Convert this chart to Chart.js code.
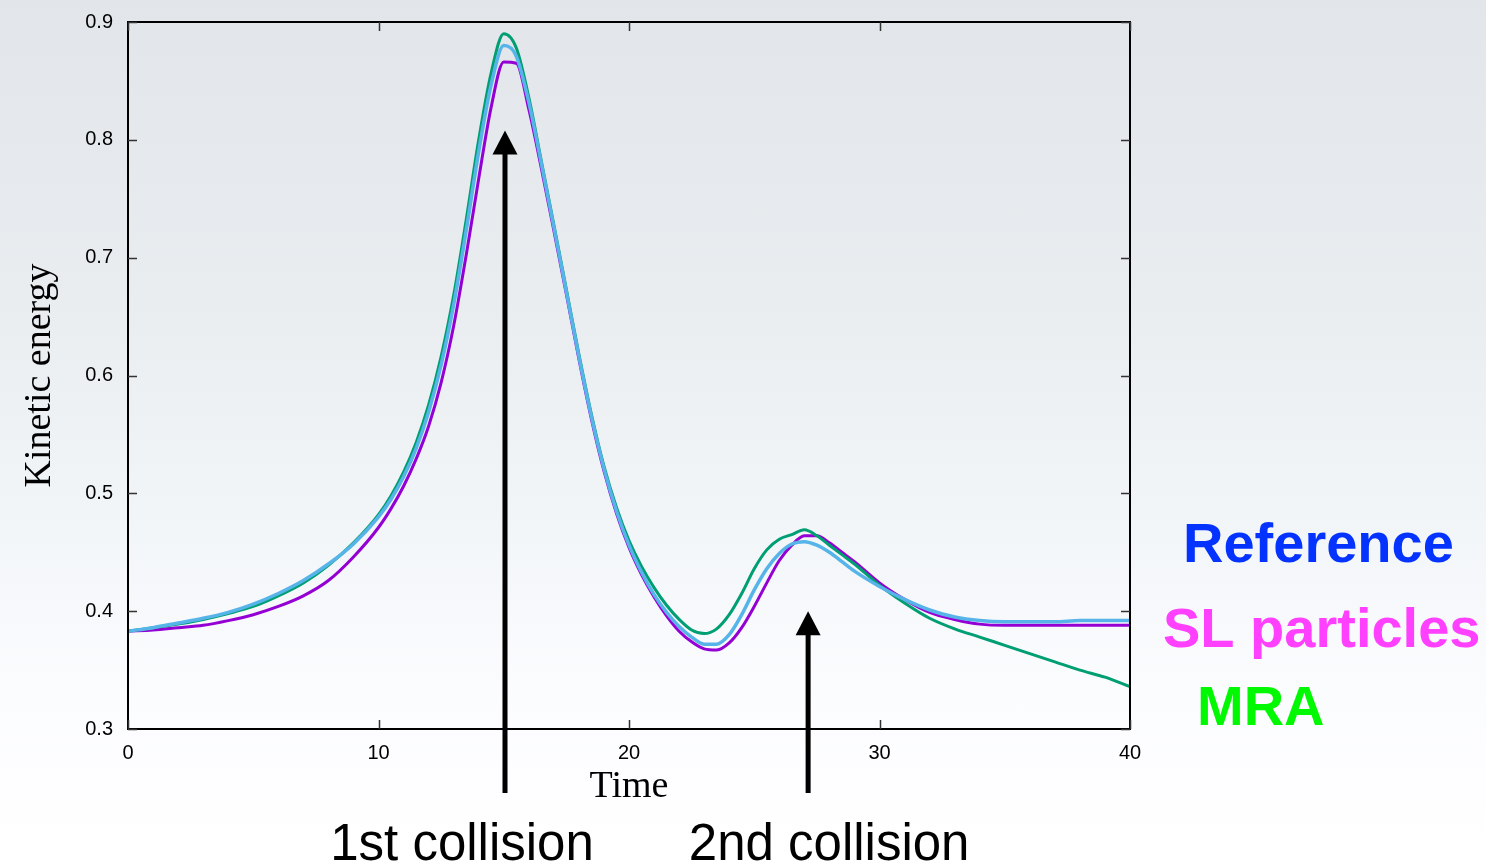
<!DOCTYPE html>
<html lang="en">
<head>
    <meta charset="UTF-8">
    <title>Kinetic energy vs time</title>
    <style>
        html, body {
            margin: 0;
            padding: 0;
        }
        body {
            width: 1486px;
            height: 868px;
            overflow: hidden;
            background: linear-gradient(180deg, #e2e6ea 0%, #e9edf0 35%, #f3f6f9 62%, #fbfcfe 80%, #ffffff 100%);
        }
        #wrap {
            position: absolute;
            left: 0;
            top: 0;
            width: 1486px;
            height: 868px;
        }
    </style>
    <script src="https://cdn.jsdelivr.net/npm/chart.js"></script>
</head>
<body>
    <div id="wrap"><canvas id="keChart" width="1486" height="868"></canvas></div>

    <script>
        // sample times shared by all three runs
        const time = [0, 1, 2, 3, 4, 5, 6, 7, 8, 9, 10,
            10.5, 11, 11.5, 12, 12.5, 13, 13.5, 14, 14.5, 15, 15.5, 16, 16.5, 17, 17.5, 18, 18.5, 19, 19.5,
            20, 20.5, 21, 21.5, 22, 22.5, 23, 23.5, 24, 24.5, 25, 25.5, 26, 26.5, 27, 27.5, 28, 28.5, 29,
            30, 31, 32, 33, 34, 35, 36, 37, 38, 39, 40];

        // kinetic energy per run
        const reference = [0.383, 0.386, 0.390, 0.394, 0.399, 0.406, 0.415, 0.426, 0.440, 0.457, 0.480,
            0.495, 0.514, 0.538, 0.569, 0.609, 0.660, 0.723, 0.790, 0.847, 0.880, 0.871, 0.832, 0.780, 0.726, 0.671, 0.616, 0.565, 0.521, 0.485,
            0.456, 0.433, 0.414, 0.399, 0.387, 0.378, 0.372, 0.372, 0.380, 0.397, 0.418, 0.436, 0.449, 0.457, 0.459, 0.456, 0.450, 0.442, 0.434,
            0.421, 0.410, 0.401, 0.395, 0.392, 0.391, 0.391, 0.391, 0.392, 0.392, 0.392];

        const slParticles = [0.383, 0.384, 0.386, 0.388, 0.392, 0.397, 0.404, 0.413, 0.426, 0.446, 0.471,
            0.487, 0.506, 0.529, 0.557, 0.594, 0.642, 0.702, 0.767, 0.828, 0.866, 0.865, 0.826, 0.776, 0.723, 0.669, 0.614, 0.563, 0.519, 0.483,
            0.454, 0.431, 0.412, 0.396, 0.383, 0.374, 0.368, 0.367, 0.373, 0.386, 0.404, 0.424, 0.443, 0.456, 0.464, 0.464, 0.458, 0.450, 0.442,
            0.424, 0.410, 0.399, 0.393, 0.389, 0.388, 0.388, 0.388, 0.388, 0.388, 0.388];

        const mra = [0.383, 0.386, 0.389, 0.393, 0.398, 0.404, 0.413, 0.424, 0.439, 0.458, 0.482,
            0.498, 0.518, 0.543, 0.575, 0.616, 0.668, 0.732, 0.800, 0.857, 0.890, 0.878, 0.836, 0.782, 0.728, 0.673, 0.618, 0.567, 0.523, 0.488,
            0.460, 0.438, 0.420, 0.405, 0.393, 0.384, 0.381, 0.385, 0.397, 0.415, 0.436, 0.452, 0.461, 0.465, 0.469, 0.464, 0.456, 0.448, 0.440,
            0.422, 0.407, 0.394, 0.385, 0.378, 0.371, 0.364, 0.357, 0.350, 0.344, 0.336];

        const xTicks = [0, 10, 20, 30, 40];
        const yTicks = [0.3, 0.4, 0.5, 0.6, 0.7, 0.8, 0.9];

        // collision markers: time, arrow tip energy, caption
        const collisionTimes = [15.05, 27.15];
        const collisionTips = [0.808, 0.400];
        const collisionLabels = ['1st collision', '2nd collision'];

        const legendNames = ['Reference', 'SL particles', 'MRA'];
        const legendColors = ['#0433ff', '#ff40ff', '#00f900'];

        const toPoints = ys => time.map((t, i) => ({ x: t, y: ys[i] }));

        // box, inward ticks, titles, arrows and the coloured legend
        const decorations = {
            id: 'decorations',
            afterDraw(chart) {
                const { ctx, chartArea: a, scales: { x, y } } = chart;
                ctx.save();

                ctx.strokeStyle = '#000';
                ctx.lineWidth = 2;
                ctx.strokeRect(a.left, a.top, a.right - a.left, a.bottom - a.top);

                ctx.lineWidth = 1.5;
                ctx.strokeStyle = '#333';
                xTicks.forEach(v => {
                    const px = Math.round(x.getPixelForValue(v)) + 0.5;
                    ctx.beginPath();
                    ctx.moveTo(px, a.bottom); ctx.lineTo(px, a.bottom - 9);
                    ctx.moveTo(px, a.top); ctx.lineTo(px, a.top + 9);
                    ctx.stroke();
                });
                yTicks.forEach(v => {
                    const py = Math.round(y.getPixelForValue(v)) + 0.5;
                    ctx.beginPath();
                    ctx.moveTo(a.left, py); ctx.lineTo(a.left + 9, py);
                    ctx.moveTo(a.right, py); ctx.lineTo(a.right - 9, py);
                    ctx.stroke();
                });

                // axis titles
                ctx.fillStyle = '#000';
                ctx.font = '38px "Liberation Serif", "DejaVu Serif", serif';
                ctx.textAlign = 'center';
                ctx.textBaseline = 'alphabetic';
                ctx.fillText('Time', (a.left + a.right) / 2, 797);
                ctx.save();
                ctx.translate(50, (a.top + a.bottom) / 2);
                ctx.rotate(-Math.PI / 2);
                ctx.fillText('Kinetic energy', 0, 0);
                ctx.restore();

                // collision arrows
                collisionTimes.forEach((t, i) => {
                    const px = x.getPixelForValue(t);
                    const tip = y.getPixelForValue(collisionTips[i]);
                    const base = a.bottom + 64;
                    ctx.fillStyle = '#000';
                    ctx.fillRect(px - 2.5, tip + 20, 5, base - tip - 20);
                    ctx.beginPath();
                    ctx.moveTo(px, tip);
                    ctx.lineTo(px + 12.5, tip + 24);
                    ctx.lineTo(px - 12.5, tip + 24);
                    ctx.closePath();
                    ctx.fill();

                    ctx.font = '51px "Liberation Sans", Arial, sans-serif';
                    ctx.textAlign = 'center';
                    ctx.fillText(collisionLabels[i], px - (i === 0 ? 43 : -21), 860);
                });

                // series names on the right
                ctx.font = 'bold 56px "Liberation Sans", Arial, sans-serif';
                ctx.textAlign = 'left';
                const legendX = [1183, 1163, 1197];
                const legendY = [562, 647, 725];
                legendNames.forEach((name, i) => {
                    ctx.fillStyle = legendColors[i];
                    ctx.fillText(name, legendX[i], legendY[i]);
                });

                ctx.restore();
            }
        };

        const ctx = document.getElementById('keChart').getContext('2d');
        new Chart(ctx, {
            type: 'line',
            data: {
                datasets: [
                    {
                        label: 'Reference',
                        data: toPoints(reference),
                        borderColor: '#56b4e9',
                        borderWidth: 3.5
                    },
                    {
                        label: 'MRA',
                        data: toPoints(mra),
                        borderColor: '#009e73',
                        borderWidth: 3
                    },
                    {
                        label: 'SL particles',
                        data: toPoints(slParticles),
                        borderColor: '#9400d3',
                        borderWidth: 3
                    }
                ]
            },
            options: {
                responsive: false,
                animation: false,
                layout: { padding: { left: 0, top: 22, right: 356, bottom: 0 } },
                elements: {
                    point: { radius: 0 },
                    line: { cubicInterpolationMode: 'monotone', fill: false, borderCapStyle: 'round', borderJoinStyle: 'round' }
                },
                plugins: {
                    legend: { display: false },
                    tooltip: { enabled: false }
                },
                scales: {
                    x: {
                        type: 'linear',
                        min: 0,
                        max: 40,
                        afterBuildTicks: s => { s.ticks = xTicks.map(v => ({ value: v })); },
                        afterFit: s => { s.height = 139; s.paddingLeft = 0; s.paddingRight = 0; },
                        grid: { display: false, drawTicks: false },
                        border: { display: false },
                        ticks: {
                            color: '#000',
                            padding: 12,
                            maxRotation: 0,
                            font: { family: '"Liberation Sans", Arial, sans-serif', size: 20 }
                        }
                    },
                    y: {
                        min: 0.3,
                        max: 0.9,
                        afterBuildTicks: s => { s.ticks = yTicks.map(v => ({ value: v })); },
                        afterFit: s => { s.width = 128; s.paddingTop = 0; s.paddingBottom = 0; },
                        grid: { display: false, drawTicks: false },
                        border: { display: false },
                        ticks: {
                            color: '#000',
                            padding: 15,
                            callback: v => v.toFixed(1),
                            font: { family: '"Liberation Sans", Arial, sans-serif', size: 20 }
                        }
                    }
                }
            },
            plugins: [decorations]
        });
    </script>
</body>
</html>
